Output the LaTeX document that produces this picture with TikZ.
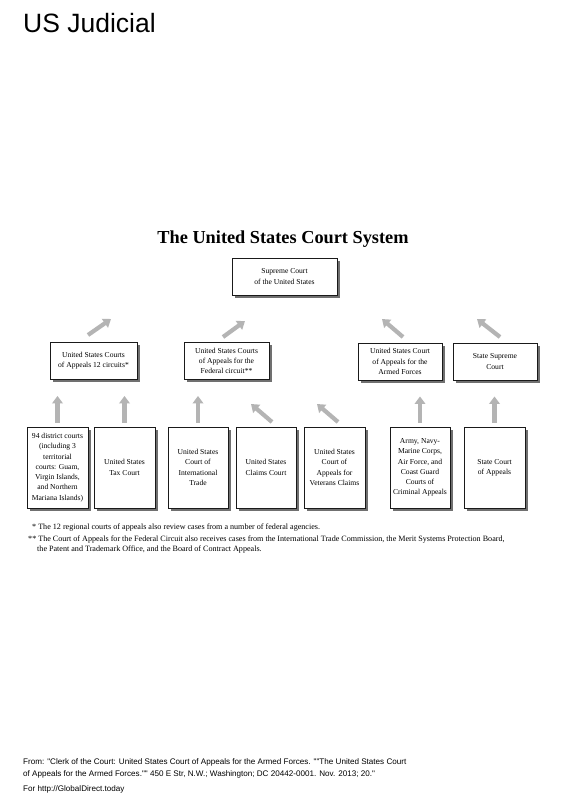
\documentclass[tikz,border=0pt]{standalone}
\usepackage{fontspec}
\setmainfont{Liberation Serif}
\newfontfamily\headsans{Liberation Sans}
\usepackage{tikz}
\usepackage{xcolor}
\usetikzlibrary{arrows.meta,positioning,shadows}
\definecolor{ink}{HTML}{1A1A1A}
\definecolor{shade}{HTML}{707070}
\definecolor{arrgray}{HTML}{B4B4B4}
\tikzset{
  courtbox/.style={draw=ink,fill=white,line width=0.9pt,
                   align=center,inner sep=2pt,
                   font=\fontsize{7.6}{10.3}\selectfont,
                   drop shadow={shadow xshift=2.5pt,shadow yshift=-2.5pt,
                                fill=shade,opacity=1}},
  tallbox/.style={courtbox,minimum height=81pt},
  widebox/.style={courtbox,minimum height=37pt},
  uparr/.style={-{Triangle[length=7.5pt,width=10.5pt]},line width=4.2pt,
                color=arrgray},
  footnote/.style={anchor=base west,inner sep=0pt,
                   font=\fontsize{8.1}{9.5}\selectfont},
  source/.style={anchor=base west,inner sep=0pt,
                 font=\headsans\fontsize{8.1}{10}\selectfont}
}
\begin{document}
\begin{tikzpicture}[x=1pt,y=-1pt]
  \fill[white] (0,0) rectangle (565,800);
  \useasboundingbox (0,0) rectangle (565,800);
  \node[anchor=base west,inner sep=0pt,font=\headsans\fontsize{26.5}{30}\selectfont]
    (pagetitle) at (23,33) {US Judicial};
  \node[anchor=base,inner sep=0pt,font=\bfseries\fontsize{18.3}{22}\selectfont]
    (systitle) at (283,243) {The United States Court System};
  % top
  \node[widebox,minimum width=105pt] (supreme) at (284.5,276.5)
    {Supreme Court\\of the United States};
  % appeals level
  \node[widebox,minimum width=87pt] (circuits) at (93.5,361) {United States Courts\\of Appeals 12 circuits*};
  \node[widebox,minimum width=85pt] (federal) at (226.5,361) {United States Courts\\of Appeals for the\\Federal circuit**};
  \node[widebox,minimum width=84pt] (armed) at (400,361.5) {United States Court\\of Appeals for the\\Armed Forces};
  \node[widebox,minimum width=84pt] (statesup) at (495,361.5) {State Supreme\\Court};
  % trial level
  \node[tallbox,minimum width=61pt] (district) at (57.5,467.5) {94 district courts\\(including 3\\territorial\\courts: Guam,\\Virgin Islands,\\and Northern\\Mariana Islands)};
  \node[tallbox,minimum width=61pt] (tax) at (124.5,467.5) {United States\\Tax Court};
  \node[tallbox,minimum width=60pt] (trade) at (198,467.5) {United States\\Court of\\International\\Trade};
  \node[tallbox,minimum width=60pt] (claims) at (266,467.5) {United States\\Claims Court};
  \node[tallbox,minimum width=61pt] (veterans) at (334.5,467.5) {United States\\Court of\\Appeals for\\Veterans Claims};
  \node[tallbox,minimum width=60pt] (military) at (420,467.5) {Army, Navy-\\Marine Corps,\\Air Force, and\\Coast Guard\\Courts of\\Criminal Appeals};
  \node[tallbox,minimum width=61pt] (stateapp) at (494.5,467.5) {State Court\\of Appeals};
  % arrow ends
  \coordinate (circ-a) at (88,335);   \coordinate (circ-b) at (111,319);
  \coordinate (fed-a) at (223,337);   \coordinate (fed-b) at (245,321);
  \coordinate (arm-a) at (403,337);   \coordinate (arm-b) at (382,319);
  \coordinate (sts-a) at (500,337);   \coordinate (sts-b) at (477,319);
  \coordinate (clm-a) at (272,422);   \coordinate (clm-b) at (251,404);
  \coordinate (vet-a) at (338,422);   \coordinate (vet-b) at (317,404);
  \draw[uparr] (circ-a)--(circ-b);
  \draw[uparr] (fed-a)--(fed-b);
  \draw[uparr] (arm-a)--(arm-b);
  \draw[uparr] (sts-a)--(sts-b);
  \draw[uparr,shorten <=4pt,shorten >=16pt] (district.north)--(district.north |- circuits.south);
  \draw[uparr,shorten <=4pt,shorten >=16pt] (tax.north)--(tax.north |- circuits.south);
  \draw[uparr,shorten <=4pt,shorten >=16pt] (trade.north)--(trade.north |- federal.south);
  \draw[uparr] (clm-a)--(clm-b);
  \draw[uparr] (vet-a)--(vet-b);
  \draw[uparr,shorten <=4pt,shorten >=16pt] (military.north)--(military.north |- armed.south);
  \draw[uparr,shorten <=4pt,shorten >=16pt] (stateapp.north)--(stateapp.north |- statesup.south);
  % notes
  \node[footnote] (note1) at (32,529) {* The 12 regional courts of appeals also review cases from a number of federal agencies.};
  \node[footnote] (note2) at (28,541) {** The Court of Appeals for the Federal Circuit also receives cases from the International Trade Commission, the Merit Systems Protection Board,};
  \node[footnote] (note2b) at (37,551) {the Patent and Trademark Office, and the Board of Contract Appeals.};
  \node[source] (src1) at (23,764) {From: "Clerk of the Court: United States Court of Appeals for the Armed Forces. ""The United States Court};
  \node[source] (src2) at (23,776) {of Appeals for the Armed Forces."" 450 E Str, N.W.; Washington; DC 20442-0001. Nov. 2013; 20."};
  \node[source] (src3) at (23,791) {For http://GlobalDirect.today};
\end{tikzpicture}
\end{document}
